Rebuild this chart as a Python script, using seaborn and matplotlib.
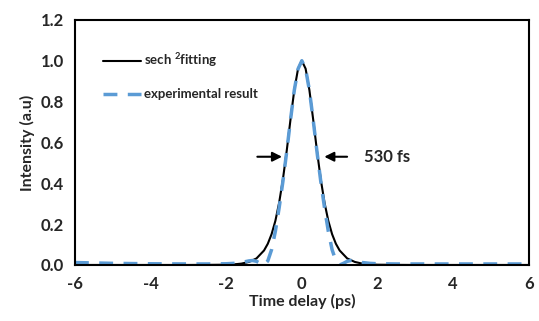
import numpy as np
import pandas as pd
import matplotlib
matplotlib.use('Agg')
import matplotlib.pyplot as plt
import seaborn as sns

# sech^2 fit
t_fit = [-6, -4, -3, -2.5, -2, -1.8, -1.6, -1.4, -1.2, -1.0, -0.9, -0.8, -0.7, -0.6, -0.5, -0.4,
         -0.3, -0.2, -0.1, 0.0, 0.1, 0.2, 0.3, 0.4, 0.5, 0.6, 0.7, 0.8, 0.9, 1.0, 1.2, 1.4,
         1.6, 1.8, 2, 2.5, 3, 4, 6]
i_fit = [0.0, 0.0, 0.0, 0.0005, 0.0013, 0.003, 0.0066, 0.015, 0.032, 0.071, 0.104, 0.151, 0.216,
         0.305, 0.42, 0.559, 0.712, 0.856, 0.961, 1.0, 0.961, 0.856, 0.712, 0.559, 0.42, 0.305,
         0.216, 0.151, 0.104, 0.071, 0.032, 0.015, 0.0066, 0.003, 0.0013, 0.0005, 0.0, 0.0, 0.0]

# experimental autocorrelation trace
t_exp = [-6, -5, -4, -3, -2.5, -2, -1.8, -1.6, -1.5, -1.4, -1.3, -1.2, -1.1, -1.0, -0.9, -0.8,
         -0.7, -0.6, -0.5, -0.4, -0.3, -0.2, -0.1, 0.0, 0.1, 0.2, 0.3, 0.4, 0.5, 0.6, 0.7,
         0.8, 0.9, 1.0, 1.1, 1.2, 1.3, 1.4, 1.5, 1.6, 1.8, 2, 2.5, 3, 4, 5, 6]
i_exp = [0.012, 0.008, 0.006, 0.005, 0.005, 0.006, 0.008, 0.012, 0.016, 0.02, 0.022, 0.018,
         0.008, 0.0, 0.02, 0.075, 0.165, 0.28, 0.41, 0.555, 0.71, 0.855, 0.96, 1.0, 0.96, 0.855,
         0.71, 0.555, 0.41, 0.28, 0.165, 0.075, 0.02, 0.0, 0.008, 0.018, 0.022, 0.02, 0.016,
         0.012, 0.008, 0.006, 0.005, 0.005, 0.005, 0.005, 0.005]

sns.set_style('white')
plt.rcParams['font.family'] = ['Lato', 'DejaVu Sans']
plt.rcParams['axes.unicode_minus'] = False
plt.rcParams['mathtext.fontset'] = 'custom'
plt.rcParams['mathtext.rm'] = 'Lato:bold'
plt.rcParams['mathtext.it'] = 'Lato:bold'

fig = plt.figure(figsize=(5.39, 3.21), dpi=100)
ax = fig.add_axes([0.139, 0.1745, 0.842, 0.7635])

fit = pd.DataFrame({'t': t_fit, 'I': i_fit})
exp = pd.DataFrame({'t': t_exp, 'I': i_exp})

sns.lineplot(data=fit, x='t', y='I', ax=ax, color='black', lw=1.5, label='sech $^2$fitting')
sns.lineplot(data=exp, x='t', y='I', ax=ax, color='#5B9BD5', lw=2.5, label='experimental result',
             dashes=False, linestyle=(0, (4, 3)))

ax.set_xlim(-6, 6)
ax.set_ylim(0, 1.2)
ax.set_xticks([-6, -4, -2, 0, 2, 4, 6])
ax.set_yticks([0.0, 0.2, 0.4, 0.6, 0.8, 1.0, 1.2])
ax.set_yticklabels(['0.0', '0.2', '0.4', '0.6', '0.8', '1.0', '1.2'])
ax.tick_params(length=0, labelsize=12, pad=8)
for lab in ax.get_xticklabels() + ax.get_yticklabels():
    lab.set_fontweight('bold')
ax.set_xlabel('Time delay (ps)', fontsize=11.5, labelpad=1, fontweight='bold')
ax.set_ylabel('Intensity (a.u)', fontsize=11.5, labelpad=4, fontweight='bold')
for s in ax.spines.values():
    s.set_color('black')
    s.set_linewidth(1.5)

leg = ax.legend(loc='upper left', bbox_to_anchor=(0.035, 0.92), frameon=False,
                handlelength=2.9, labelspacing=1.45, handletextpad=0.25,
                prop={'size': 9.5, 'weight': 'bold'})

# FWHM arrows
ax.annotate('', xy=(-0.45, 0.53), xytext=(-1.25, 0.53),
            arrowprops=dict(arrowstyle='-|>', color='black', lw=1.5, mutation_scale=14))
ax.annotate('', xy=(0.52, 0.53), xytext=(1.27, 0.53),
            arrowprops=dict(arrowstyle='-|>', color='black', lw=1.5, mutation_scale=14))
ax.text(1.65, 0.53, '530 fs', fontsize=12, va='center', ha='left', fontweight='bold')

fig.savefig('out.png', dpi=100)
